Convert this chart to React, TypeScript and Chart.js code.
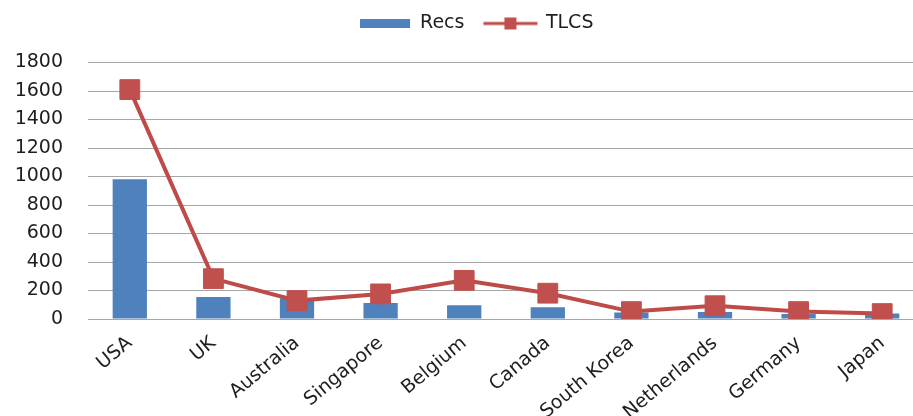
import React, { useEffect, useRef } from 'react';
import { Chart, registerables } from 'chart.js';

Chart.register(...registerables);

const categories = ['USA', 'UK', 'Australia', 'Singapore', 'Belgium', 'Canada', 'South Korea', 'Netherlands', 'Germany', 'Japan'];
const recsValues = [980, 155, 145, 112, 97, 83, 45, 50, 35, 38];
const tlcsValues = [1610, 283, 129, 176, 271, 181, 52, 93, 52, 38];
const yTickValues = [0, 200, 400, 600, 800, 1000, 1200, 1400, 1600, 1800];

const BLUE = '#4F81BD';
const RED = '#C0504D';
const RED_LINE = '#BE4B48';
const TEXT = '#1E1E1E';
const GRID = '#A6A6A6';

const CANVAS_W = 924;
const CANVAS_H = 416;

function makeRecsIcon(): HTMLCanvasElement {
  const c = document.createElement('canvas');
  c.width = 50;
  c.height = 9;
  const ctx = c.getContext('2d')!;
  ctx.fillStyle = BLUE;
  ctx.fillRect(0, 0, 50, 9);
  return c;
}

function makeTlcsIcon(): HTMLCanvasElement {
  const c = document.createElement('canvas');
  c.width = 56;
  c.height = 16;
  const ctx = c.getContext('2d')!;
  ctx.strokeStyle = RED_LINE;
  ctx.lineWidth = 3;
  ctx.beginPath();
  ctx.moveTo(1, 8);
  ctx.lineTo(55, 8);
  ctx.stroke();
  ctx.fillStyle = RED;
  ctx.fillRect(22, 2, 12, 12);
  return c;
}

const LEGEND_H = 59.5;
const LEGEND_SHIFT_X = 14;
const LEGEND_SHIFT_Y = -9;

const layoutTweak = {
  id: 'layoutTweak',
  afterInit(chart: any) {
    const lg = chart.legend;
    if (lg && !lg.__patched) {
      const orig = lg.fit.bind(lg);
      lg.fit = function () {
        orig();
        this.height = LEGEND_H;
      };
      lg.__patched = true;
    }
  },
  afterLayout(chart: any) {
    const lg = chart.legend;
    if (lg) {
      lg.left += LEGEND_SHIFT_X;
      lg.right += LEGEND_SHIFT_X;
      lg.top += LEGEND_SHIFT_Y;
      lg.bottom += LEGEND_SHIFT_Y;
    }
  },
};

export default function App() {
  const ref = useRef<HTMLCanvasElement | null>(null);

  useEffect(() => {
    if (!ref.current) return;
    const recsIcon = makeRecsIcon();
    const tlcsIcon = makeTlcsIcon();
    const chart = new Chart(ref.current, {
      type: 'bar',
      data: {
        labels: categories,
        datasets: [
          {
            type: 'bar',
            label: 'Recs',
            data: recsValues,
            backgroundColor: BLUE,
            borderWidth: 0,
            barPercentage: 0.82,
            categoryPercentage: 0.5,
            order: 1,
          },
          {
            type: 'line',
            label: 'TLCS',
            data: tlcsValues,
            borderColor: RED_LINE,
            borderWidth: 4,
            pointStyle: 'rect',
            pointRadius: 14,
            pointBackgroundColor: RED,
            pointBorderColor: RED,
            pointBorderWidth: 1,
            tension: 0,
            order: 0,
          } as any,
        ],
      },
      options: {
        responsive: false,
        maintainAspectRatio: false,
        animation: false,
        devicePixelRatio: 1,
        layout: { autoPadding: false, padding: { top: 3, right: 0, left: 0, bottom: 0 } },
        plugins: {
          tooltip: { enabled: false },
          legend: {
            display: true,
            position: 'top',
            labels: {
              usePointStyle: true,
              pointStyleWidth: 52,
              boxHeight: 19,
              padding: 20,
              color: TEXT,
              font: { family: 'DejaVu Sans', size: 19 },
              generateLabels: () => [
                {
                  text: 'Recs',
                  fillStyle: BLUE,
                  strokeStyle: 'rgba(0,0,0,0)',
                  lineWidth: 0,
                  pointStyle: recsIcon as any,
                  datasetIndex: 0,
                  hidden: false,
                  fontColor: TEXT,
                },
                {
                  text: 'TLCS',
                  fillStyle: RED,
                  strokeStyle: 'rgba(0,0,0,0)',
                  lineWidth: 0,
                  pointStyle: tlcsIcon as any,
                  datasetIndex: 1,
                  hidden: false,
                  fontColor: TEXT,
                },
              ],
            },
          },
        },
        scales: {
          x: {
            grid: { display: false, drawTicks: false },
            border: { display: true, color: GRID, width: 1 },
            ticks: {
              autoSkip: false,
              minRotation: 40,
              maxRotation: 40,
              padding: 13,
              labelOffset: 0,
              color: TEXT,
              font: { family: 'DejaVu Sans', size: 19 },
            },
            afterFit: (scale: any) => {
              scale.height = 97;
              scale.paddingRight = 0;
              scale.paddingLeft = 0;
            },
          },
          y: {
            min: 0,
            max: 1800,
            afterBuildTicks: (scale: any) => {
              scale.ticks = yTickValues.map((v) => ({ value: v }));
            },
            grid: { color: GRID, drawTicks: false, lineWidth: 1 },
            border: { display: false },
            ticks: {
              padding: 25,
              color: TEXT,
              font: { family: 'DejaVu Sans', size: 19 },
              callback: (v: any) => String(v),
            },
            afterFit: (scale: any) => {
              scale.width = 88;
            },
          },
        },
      },
      plugins: [layoutTweak],
    });
    return () => chart.destroy();
  }, []);

  return (
    <div style={{ position: 'absolute', left: 0, top: 0, width: 913, height: 416, overflow: 'hidden' }}>
      <canvas ref={ref} width={CANVAS_W} height={CANVAS_H} style={{ display: 'block', width: CANVAS_W, height: CANVAS_H }} />
    </div>
  );
}
